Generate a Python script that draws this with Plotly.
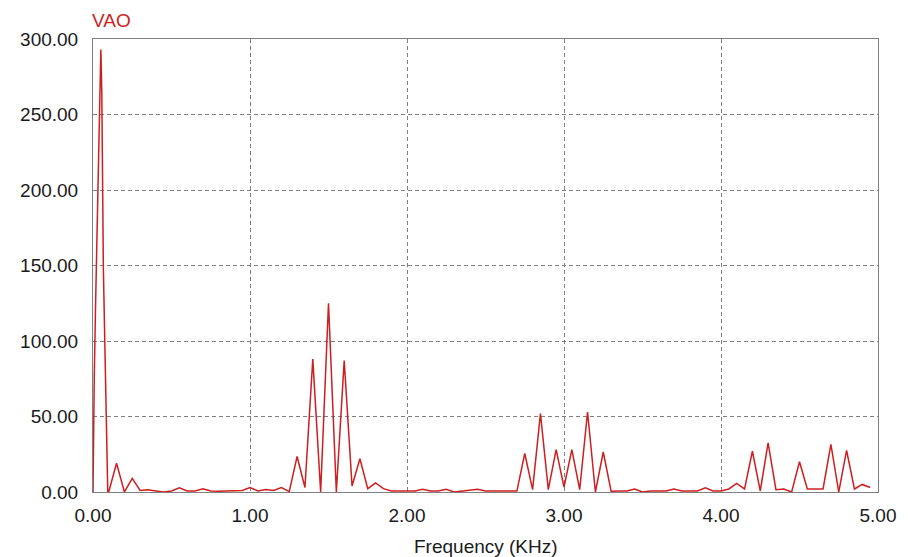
import plotly.graph_objects as go

# Fundamental region (fine resolution) in kHz
freq_fund = [0.000, 0.002, 0.008, 0.016, 0.024, 0.035, 0.045, 0.050,
             0.056, 0.066, 0.077, 0.087, 0.094]
mag_fund = [0, 25, 76, 122, 170, 218, 268, 293,
            265, 148, 89, 36, 0]

# Remaining spectrum on a 0.05 kHz grid
freq_grid = [round(0.10 + 0.05 * i, 2) for i in range(98)]
mag_grid = [
    0, 19, 0, 9, 1, 1.5, 0.7, 0, 0.7, 2.7,          # 0.10 - 0.55
    0.7, 0.7, 2.2, 0.7, 0.5, 0.7, 0.7, 1, 3, 0.7,     # 0.60 - 1.05
    1.7, 1, 3, 0.3, 23.5, 3, 88, 0, 125, 0,           # 1.10 - 1.55
    87, 4, 22, 2.2, 6, 2.2, 0.6, 0.6, 0.6, 0.6,       # 1.60 - 2.05
    1.8, 0.6, 0.6, 1.8, 0, 0.6, 0.8, 1.8, 0.6, 0.6,   # 2.10 - 2.55
    0.6, 0.6, 0.6, 25.5, 1.6, 52, 1.6, 28, 3.3, 28,   # 2.60 - 3.05
    1.6, 53, 0, 26.5, 0.5, 0.6, 0.6, 2, 0, 0.7,       # 3.10 - 3.55
    0.7, 0.7, 2, 0.7, 0.7, 0.7, 2.7, 0.7, 0.7, 2,     # 3.60 - 4.05
    5.7, 2, 27, 0.7, 32.5, 1.5, 2, 0, 20, 2,          # 4.10 - 4.55
    2, 2, 31.5, 0, 27.5, 2, 5, 3,                     # 4.60 - 4.95
]

freq = freq_fund + freq_grid
mag = mag_fund + mag_grid

x_ticks = [0, 1, 2, 3, 4, 5]
y_ticks = [0, 50, 100, 150, 200, 250, 300]

RED = "#CC1F1F"
GRID = "#808080"
FONT = "Liberation Sans, Arial, sans-serif"

fig = go.Figure()
fig.add_trace(go.Scatter(x=freq, y=mag, mode="lines",
                         line=dict(color=RED, width=1.5),
                         hoverinfo="skip", showlegend=False))

fig.update_layout(
    width=908, height=557,
    margin=dict(l=93, r=26, t=39, b=65),
    paper_bgcolor="white", plot_bgcolor="white",
    font=dict(family=FONT, size=19, color="#1a1a1a"),
    xaxis=dict(range=[0, 5], tickvals=x_ticks, tickformat=".2f",
               showgrid=True, gridcolor=GRID, griddash="4px,3px", gridwidth=1,
               showline=True, linecolor=GRID, linewidth=1, mirror=True,
               zeroline=False, ticks="", ticklabelstandoff=6),
    yaxis=dict(range=[0, 300], tickvals=y_ticks, tickformat=".2f",
               showgrid=True, gridcolor=GRID, griddash="4px,3px", gridwidth=1,
               showline=True, linecolor=GRID, linewidth=1, mirror=True,
               zeroline=False, ticks="", ticklabelstandoff=10),
    annotations=[
        dict(text="VAO", xref="paper", yref="paper", x=0, y=1.0,
             xanchor="left", yanchor="bottom", yshift=6, xshift=-3,
             showarrow=False,
             font=dict(family=FONT, size=19, color=RED)),
        dict(text="Frequency (KHz)", xref="paper", yref="paper", x=0.5,
             y=0, xanchor="center", yanchor="middle", yshift=-54,
             showarrow=False, font=dict(family=FONT, size=19, color="#1a1a1a")),
    ],
)

fig.write_html("out.html")
